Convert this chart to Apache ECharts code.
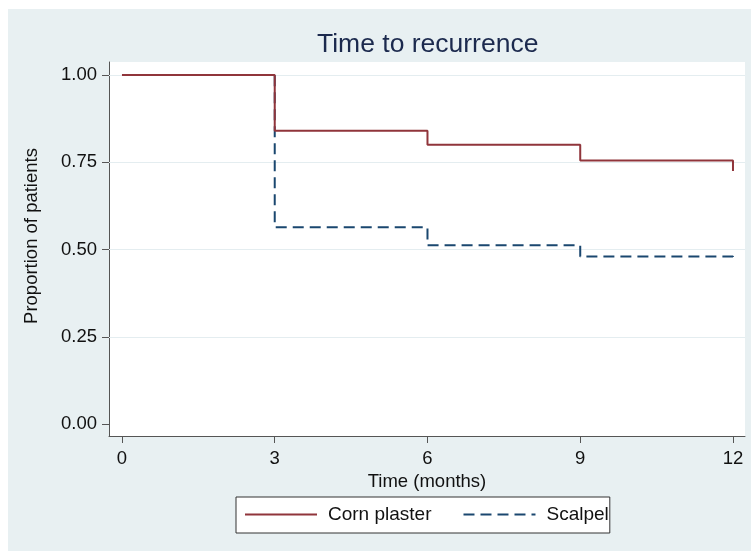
<!DOCTYPE html>
<html><head><meta charset="utf-8">
<script src="https://cdn.jsdelivr.net/npm/echarts@6/dist/echarts.min.js"></script>
<style>html,body{margin:0;padding:0;background:#fff}#c{width:751px;height:551px}</style>
</head><body><div id="c"></div>
<script>
const times = [0, 3, 6, 9, 12];
const cornPlaster = [1.00, 0.840, 0.800, 0.755, 0.725];
const scalpel = [1.00, 0.564, 0.512, 0.480, 0.470];
const xTicks = [0, 3, 6, 9, 12];
const yTicks = [0, 0.25, 0.5, 0.75, 1];
const gridValues = [0.25, 0.5, 0.75, 1];
const seriesNames = ['Corn plaster', 'Scalpel'];

const FONT = 'Liberation Sans, Arial, Helvetica, sans-serif';
const BG = '#E8F0F2';
const chart = echarts.init(document.getElementById('c'), null, {renderer: 'canvas'});

const pairs = (ys) => times.map((t, i) => [t, ys[i]]);

chart.setOption({
  animation: false,
  backgroundColor: BG,
  title: {
    text: 'Time to recurrence',
    left: 317, top: 31, padding: 0,
    textStyle: {fontFamily: FONT, fontSize: 26.5, fontWeight: 'normal', color: '#1C2A4E'}
  },
  graphic: [
    {type: 'rect', shape: {x: 0, y: 0, width: 751, height: 9}, style: {fill: '#fff'}, silent: true},
    {type: 'rect', shape: {x: 0, y: 0, width: 8, height: 551}, style: {fill: '#fff'}, silent: true},
    {type: 'text', x: 32, y: 236, rotation: Math.PI / 2,
     style: {text: 'Proportion of patients', font: '18.5px ' + FONT, fill: '#111', align: 'center', verticalAlign: 'middle'}, silent: true}
  ],
  grid: {left: 109, right: 6, top: 62, bottom: 115, show: true, backgroundColor: '#fff', borderWidth: 0},
  legend: {
    data: seriesNames,
    left: 236, top: 497,
    orient: 'horizontal',
    backgroundColor: '#fff', borderColor: '#333', borderWidth: 1, borderRadius: 0,
    padding: [8, 1, 9, 8],
    itemWidth: 72, itemHeight: 14, itemGap: 31,
    itemStyle: {opacity: 0},
    textStyle: {fontFamily: FONT, fontSize: 19, color: '#111', padding: [0, 0, 0, 6]}
  },
  xAxis: {
    type: 'value', min: -0.255, max: 12.236,
    name: 'Time (months)', nameLocation: 'middle', nameGap: 31,
    nameTextStyle: {fontFamily: FONT, fontSize: 18.5, color: '#111'},
    axisLine: {show: true, onZero: false, lineStyle: {color: '#555', width: 1}},
    axisTick: {show: true, length: 7, customValues: xTicks, lineStyle: {color: '#555', width: 1}},
    axisLabel: {customValues: xTicks, margin: 13, fontFamily: FONT, fontSize: 18.5, color: '#111'},
    splitLine: {show: false}
  },
  yAxis: {
    type: 'value', min: -0.034, max: 1.037,
    axisLine: {show: true, onZero: false, lineStyle: {color: '#555', width: 1}},
    axisTick: {show: true, length: 7, customValues: yTicks, lineStyle: {color: '#555', width: 1}},
    axisLabel: {customValues: yTicks, margin: 12, fontFamily: FONT, fontSize: 18.5, color: '#111',
      formatter: (v) => v.toFixed(2)},
    splitLine: {show: false}
  },
  series: [
    {
      type: 'line', name: '_grid', data: [], z: 1, silent: true,
      markLine: {
        z: 1, silent: true, symbol: ['none', 'none'], animation: false,
        label: {show: false},
        lineStyle: {color: '#E4EDF0', width: 1, type: 'solid'},
        emphasis: {disabled: true},
        data: gridValues.map(v => ({yAxis: v}))
      }
    },
    {
      type: 'line', name: seriesNames[1], data: pairs(scalpel), step: 'end', z: 3,
      showSymbol: false, symbol: 'none',
      lineStyle: {color: '#1A476F', width: 2, type: [11, 6]},
      itemStyle: {color: '#1A476F'}
    },
    {
      type: 'line', name: seriesNames[0], data: pairs(cornPlaster), step: 'end', z: 4,
      showSymbol: false, symbol: 'none',
      lineStyle: {color: '#90353B', width: 2},
      itemStyle: {color: '#90353B'}
    }
  ]
});
</script>
</body></html>
